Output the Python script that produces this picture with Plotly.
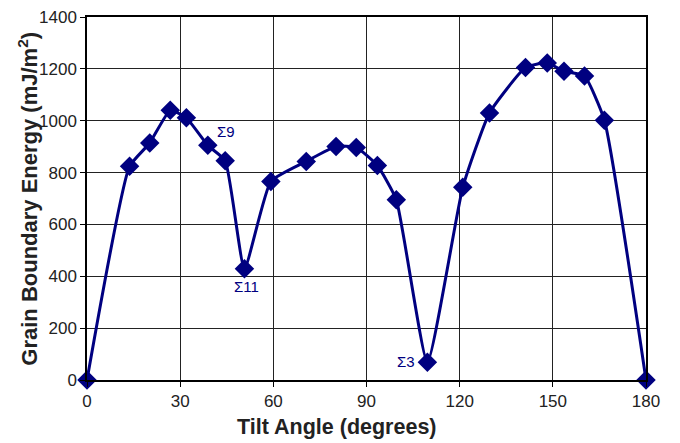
import plotly.graph_objects as go

tilt_angle = [0, 13.7, 20.2, 26.8, 32.0, 38.9, 44.5, 50.7, 59.2, 70.6, 80.2, 86.7,
              93.5, 99.6, 109.6, 121.0, 129.6, 141.2, 148.2, 153.6, 160.2, 166.6, 180]
energy = [0, 824, 914, 1040, 1011, 905, 846, 429, 766, 843, 901, 897,
          827, 695, 68, 743, 1030, 1205, 1223, 1191, 1172, 1002, 0]

labels = ["Σ9", "Σ11", "Σ3"]
label_x = [44.8, 51.3, 102.7]
label_y = [957, 360, 71]

x_ticks = [0, 30, 60, 90, 120, 150, 180]
y_ticks = [0, 200, 400, 600, 800, 1000, 1200, 1400]

x_title = "<b>Tilt Angle (degrees)</b>"
y_title = "<b>Grain Boundary Energy (mJ/m<sup>2</sup>)</b>"

navy = "#000080"
font_fam = "Liberation Sans, Arial"

fig = go.Figure()
fig.add_trace(go.Scatter(
    x=tilt_angle, y=energy, mode="lines+markers",
    line=dict(color=navy, width=3, shape="spline", smoothing=0.45),
    marker=dict(symbol="diamond", size=15, color=navy),
    showlegend=False, cliponaxis=False,
))

for t, xx, yy in zip(labels, label_x, label_y):
    fig.add_annotation(x=xx, y=yy, text=t, showarrow=False,
                       font=dict(family=font_fam, size=15, color=navy))

fig.add_annotation(xref="paper", yref="paper", x=0.447, y=-0.13,
                   xanchor="center", yanchor="middle", showarrow=False,
                   text=x_title, font=dict(family=font_fam, size=21.5, color="#222222"))
fig.add_annotation(xref="paper", yref="paper", x=-0.107, y=0.5,
                   xanchor="center", yanchor="middle", showarrow=False, textangle=-90,
                   text=y_title, font=dict(family=font_fam, size=22, color="#222222"))

axis_common = dict(
    showline=True, linecolor="black", linewidth=1.5, mirror=True,
    showgrid=True, gridcolor="#222222", gridwidth=1.2,
    ticks="outside", ticklen=5, tickcolor="black", tickwidth=1.2,
    zeroline=False, automargin=False, ticklabeloverflow="allow",
    tickfont=dict(family=font_fam, size=17, color="#222222"),
)

fig.update_xaxes(range=[0, 180], tickvals=x_ticks, **axis_common)
fig.update_yaxes(range=[0, 1400], tickvals=y_ticks, **axis_common)

fig.update_layout(
    width=672, height=435,
    margin=dict(l=79, r=34, t=9, b=63, autoexpand=False),
    paper_bgcolor="white", plot_bgcolor="white",
)

fig.write_html("out.html")
